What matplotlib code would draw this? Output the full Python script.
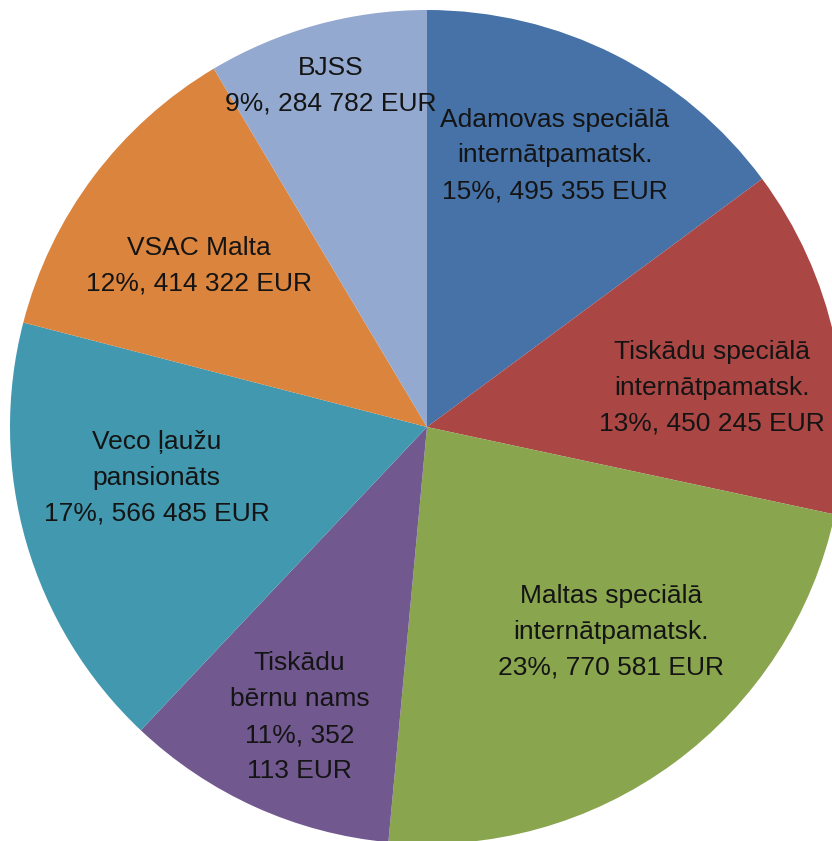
import numpy as np
import matplotlib.pyplot as plt

plt.rcParams['font.family'] = ['Liberation Sans', 'DejaVu Sans']

# Data
names = ["Adamovas speciālā\ninternātpamatsk.",
         "Tiskādu speciālā\ninternātpamatsk.",
         "Maltas speciālā\ninternātpamatsk.",
         "Tiskādu\nbērnu nams",
         "Veco ļaužu\npansionāts",
         "VSAC Malta",
         "BJSS"]
values = [495355, 450245, 770581, 352113, 566485, 414322, 284782]
pct_text = ["15%", "13%", "23%", "11%", "17%", "12%", "9%"]
value_text = ["495 355", "450 245", "770 581", "352\n113", "566 485", "414 322", "284 782"]
colors = ["#4672a8", "#aa4644", "#89a54e", "#71588f", "#4198af", "#db843d", "#93a9cf"]

# label radial distance (fraction of radius) and small angular nudges
label_dist = [0.72, 0.69, 0.66, 0.76, 0.66, 0.67, 0.85]
label_nudge = [1.5, -4.4, 5.7, 0.6, -5.5, 1.7, 0.4]

fig = plt.figure(figsize=(8.32, 8.41), dpi=100)
ax = fig.add_axes([0, 0, 1, 1])

cx, cy, R = 427, 841 - 427, 417
wedges, _ = ax.pie(values, colors=colors, startangle=90, counterclock=False,
                   center=(cx, cy), radius=R, frame=True,
                   wedgeprops=dict(linewidth=0))
ax.set_xlim(0, 832)
ax.set_ylim(0, 841)
ax.set_aspect('equal')
ax.axis('off')

for w, n, p, vt, d, nd in zip(wedges, names, pct_text, value_text, label_dist, label_nudge):
    ang = np.deg2rad((w.theta1 + w.theta2) / 2 + nd)
    x = cx + d * R * np.cos(ang)
    y = cy + d * R * np.sin(ang)
    ax.text(x, y, f"{n}\n{p}, {vt} EUR", ha='center', va='center',
            fontsize=19, color='#141414', linespacing=1.62)

fig.savefig("out.png", dpi=100)
